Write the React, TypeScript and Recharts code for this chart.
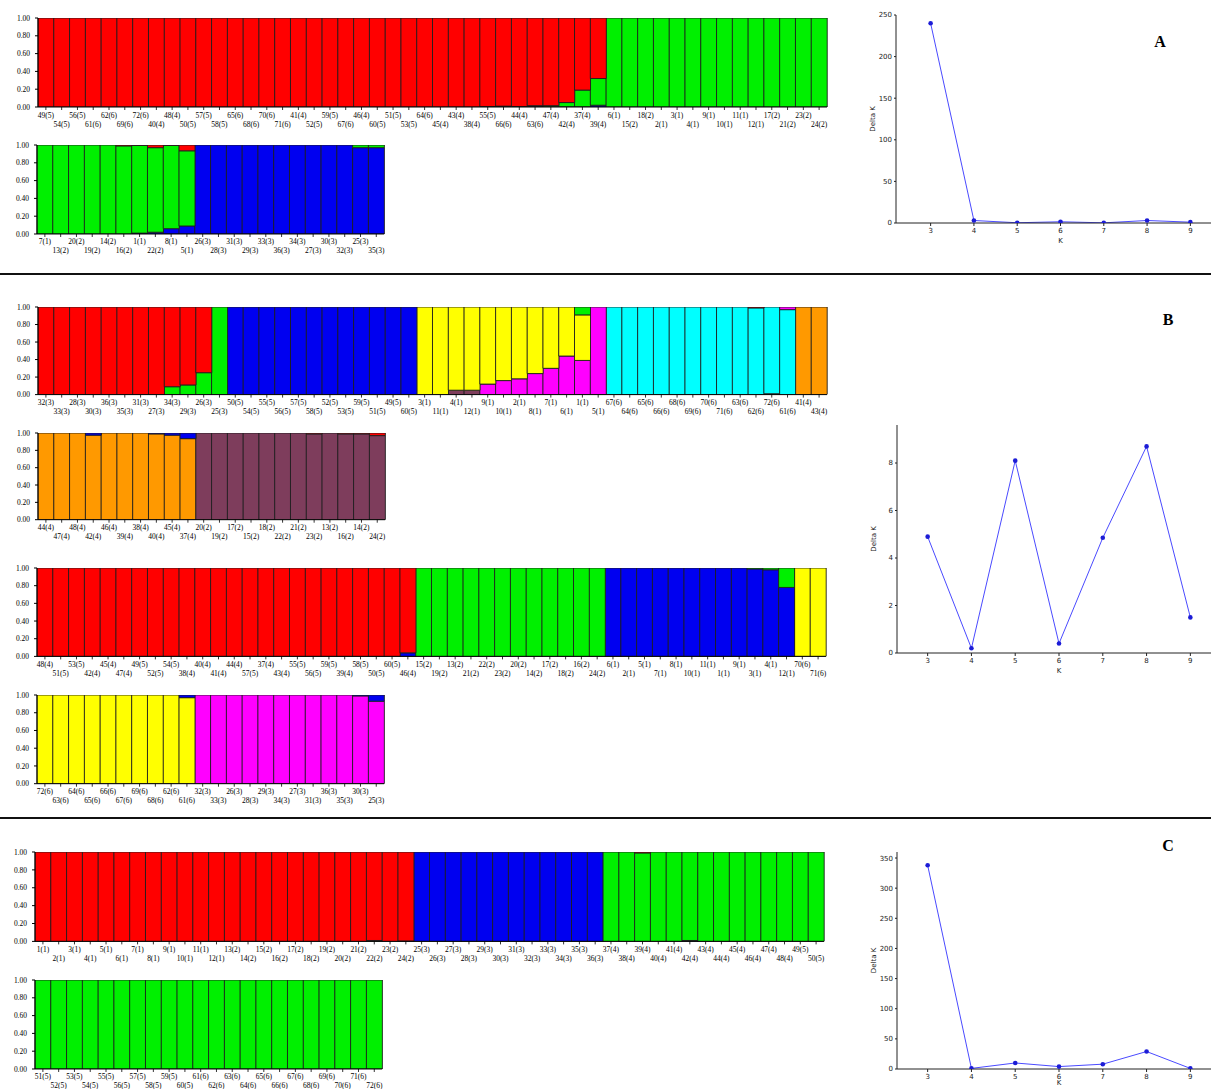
import { BarChart, Bar, XAxis, YAxis, LineChart, Line } from "recharts";

const SERIF = '"Liberation Serif", "Times New Roman", serif';
const SANS = '"DejaVu Sans", sans-serif';

// cluster colours (STRUCTURE palette)
const C = {
  red: "#ff0000",
  green: "#00f000",
  blue: "#0000f0",
  yellow: "#ffff00",
  magenta: "#ff00ff",
  cyan: "#00ffff",
  orange: "#ff9900",
  maroon: "#7e3d5c",
};

// ---------------- Panel A (K = 3) ----------------
const A1_LABELS = [
  "49(5)", "54(5)", "56(5)", "61(6)", "62(6)", "69(6)", "72(6)", "40(4)", "48(4)", "50(5)",
  "57(5)", "58(5)", "65(6)", "68(6)", "70(6)", "71(6)", "41(4)", "52(5)", "59(5)", "67(6)",
  "46(4)", "60(5)", "51(5)", "53(5)", "64(6)", "45(4)", "43(4)", "38(4)", "55(5)", "66(6)",
  "44(4)", "63(6)", "47(4)", "42(4)", "37(4)", "39(4)", "6(1)", "15(2)", "18(2)", "2(1)",
  "3(1)", "4(1)", "9(1)", "10(1)", "11(1)", "12(1)", "17(2)", "21(2)", "23(2)", "24(2)",
];
const A1_RED = [
  1, 1, 1, 1, 1, 1, 1, 1, 1, 1,
  1, 1, 1, 1, 1, 1, 1, 1, 1, 1,
  1, 1, 1, 1, 1, 1, 1, 1, 0.995, 0.99,
  0.995, 0.985, 0.985, 0.95, 0.81, 0.68, 0, 0, 0, 0,
  0, 0, 0, 0, 0, 0, 0, 0, 0, 0,
];
const A1_GREEN = [
  0, 0, 0, 0, 0, 0, 0, 0, 0, 0,
  0, 0, 0, 0, 0, 0, 0, 0, 0, 0,
  0, 0, 0, 0, 0, 0, 0, 0, 0.005, 0.003,
  0.003, 0.005, 0.012, 0.048, 0.188, 0.3, 1, 1, 1, 1,
  1, 1, 1, 1, 1, 1, 1, 1, 1, 1,
];
const A1_BLUE = [
  0, 0, 0, 0, 0, 0, 0, 0, 0, 0,
  0, 0, 0, 0, 0, 0, 0, 0, 0, 0,
  0, 0, 0, 0, 0, 0, 0, 0, 0, 0.007,
  0.002, 0.01, 0.003, 0.002, 0.002, 0.02, 0, 0, 0, 0,
  0, 0, 0, 0, 0, 0, 0, 0, 0, 0,
];

const A2_LABELS = [
  "7(1)", "13(2)", "20(2)", "19(2)", "14(2)", "16(2)", "1(1)", "22(2)", "8(1)", "5(1)",
  "26(3)", "28(3)", "31(3)", "29(3)", "33(3)", "36(3)", "34(3)", "27(3)", "30(3)", "32(3)",
  "25(3)", "35(3)",
];
const A2_RED = [0, 0, 0, 0, 0, 0.01, 0.005, 0.03, 0.005, 0.065, 0, 0, 0, 0, 0, 0, 0, 0, 0, 0, 0, 0];
const A2_GREEN = [1, 1, 1, 1, 1, 0.99, 0.985, 0.95, 0.935, 0.845, 0, 0, 0, 0, 0, 0, 0, 0, 0, 0, 0.03, 0.03];
const A2_BLUE = [0, 0, 0, 0, 0, 0, 0.01, 0.02, 0.06, 0.09, 1, 1, 1, 1, 1, 1, 1, 1, 1, 1, 0.97, 0.97];

// ---------------- Panel B (K = 8) ----------------
const B1_LABELS = [
  "32(3)", "33(3)", "28(3)", "30(3)", "36(3)", "35(3)", "31(3)", "27(3)", "34(3)", "29(3)",
  "26(3)", "25(3)", "50(5)", "54(5)", "55(5)", "56(5)", "57(5)", "58(5)", "52(5)", "53(5)",
  "59(5)", "51(5)", "49(5)", "60(5)", "3(1)", "11(1)", "4(1)", "12(1)", "9(1)", "10(1)",
  "2(1)", "8(1)", "7(1)", "6(1)", "1(1)", "5(1)", "67(6)", "64(6)", "65(6)", "66(6)",
  "68(6)", "69(6)", "70(6)", "71(6)", "63(6)", "62(6)", "72(6)", "61(6)", "41(4)", "43(4)",
];
const B1_RED = [
  1, 1, 1, 1, 1, 1, 1, 1, 0.91, 0.89,
  0.75, 0, 0, 0, 0, 0, 0, 0, 0, 0,
  0, 0, 0, 0, 0, 0, 0, 0, 0, 0,
  0, 0, 0, 0, 0, 0, 0, 0, 0, 0,
  0, 0, 0, 0, 0, 0.01, 0, 0, 0, 0,
];
const B1_GREEN = [
  0, 0, 0, 0, 0, 0, 0, 0, 0.09, 0.11,
  0.25, 1, 0, 0, 0, 0, 0, 0, 0, 0,
  0, 0, 0, 0, 0, 0, 0, 0, 0, 0,
  0, 0, 0, 0, 0.09, 0, 0, 0, 0, 0,
  0, 0, 0, 0, 0, 0, 0, 0, 0, 0,
];
const B1_BLUE = [
  0, 0, 0, 0, 0, 0, 0, 0, 0, 0,
  0, 0, 1, 1, 1, 1, 1, 1, 1, 1,
  1, 1, 1, 1, 0, 0, 0, 0, 0, 0,
  0, 0, 0, 0, 0, 0, 0, 0, 0, 0,
  0, 0, 0, 0, 0, 0, 0, 0, 0, 0,
];
const B1_YELLOW = [
  0, 0, 0, 0, 0, 0, 0, 0, 0, 0,
  0, 0, 0, 0, 0, 0, 0, 0, 0, 0,
  0, 0, 0, 0, 1, 1, 0.95, 0.95, 0.88, 0.84,
  0.82, 0.76, 0.7, 0.56, 0.52, 0, 0, 0, 0, 0,
  0, 0, 0, 0, 0, 0, 0, 0, 0, 0,
];
const B1_MAGENTA = [
  0, 0, 0, 0, 0, 0, 0, 0, 0, 0,
  0, 0, 0, 0, 0, 0, 0, 0, 0, 0,
  0, 0, 0, 0, 0, 0, 0, 0, 0.12, 0.16,
  0.18, 0.24, 0.3, 0.44, 0.39, 1, 0, 0, 0, 0,
  0, 0, 0, 0, 0, 0, 0, 0.03, 0, 0,
];
const B1_CYAN = [
  0, 0, 0, 0, 0, 0, 0, 0, 0, 0,
  0, 0, 0, 0, 0, 0, 0, 0, 0, 0,
  0, 0, 0, 0, 0, 0, 0, 0, 0, 0,
  0, 0, 0, 0, 0, 0, 1, 1, 1, 1,
  1, 1, 1, 1, 1, 0.99, 0.99, 0.97, 0, 0,
];
const B1_ORANGE = [
  0, 0, 0, 0, 0, 0, 0, 0, 0, 0,
  0, 0, 0, 0, 0, 0, 0, 0, 0, 0,
  0, 0, 0, 0, 0, 0, 0, 0, 0, 0,
  0, 0, 0, 0, 0, 0, 0, 0, 0, 0,
  0, 0, 0, 0, 0, 0, 0.01, 0, 1, 1,
];
const B1_MAROON = [
  0, 0, 0, 0, 0, 0, 0, 0, 0, 0,
  0, 0, 0, 0, 0, 0, 0, 0, 0, 0,
  0, 0, 0, 0, 0, 0, 0.05, 0.05, 0, 0,
  0, 0, 0, 0, 0, 0, 0, 0, 0, 0,
  0, 0, 0, 0, 0, 0, 0, 0, 0, 0,
];

const B2_LABELS = [
  "44(4)", "47(4)", "48(4)", "42(4)", "46(4)", "39(4)", "38(4)", "40(4)", "45(4)", "37(4)",
  "20(2)", "19(2)", "17(2)", "15(2)", "18(2)", "22(2)", "21(2)", "23(2)", "13(2)", "16(2)",
  "14(2)", "24(2)",
];
const B2_ORANGE = [1, 1, 1, 0.975, 1, 1, 1, 0.99, 0.975, 0.935, 0, 0, 0, 0, 0, 0, 0, 0, 0, 0, 0, 0];
const B2_BLUE = [0, 0, 0, 0.025, 0, 0, 0, 0.01, 0.025, 0.065, 0, 0, 0, 0, 0, 0, 0, 0, 0, 0, 0, 0];
const B2_MAROON = [0, 0, 0, 0, 0, 0, 0, 0, 0, 0, 1, 1, 1, 1, 1, 1, 1, 0.99, 1, 0.99, 0.99, 0.97];
const B2_RED = [0, 0, 0, 0, 0, 0, 0, 0, 0, 0, 0, 0, 0, 0, 0, 0, 0, 0.01, 0, 0.01, 0.01, 0.03];

const B3_LABELS = [
  "48(4)", "51(5)", "53(5)", "42(4)", "45(4)", "47(4)", "49(5)", "52(5)", "54(5)", "38(4)",
  "40(4)", "41(4)", "44(4)", "57(5)", "37(4)", "43(4)", "55(5)", "56(5)", "59(5)", "39(4)",
  "58(5)", "50(5)", "60(5)", "46(4)", "15(2)", "19(2)", "13(2)", "21(2)", "22(2)", "23(2)",
  "20(2)", "14(2)", "17(2)", "18(2)", "16(2)", "24(2)", "6(1)", "2(1)", "5(1)", "7(1)",
  "8(1)", "10(1)", "11(1)", "1(1)", "9(1)", "3(1)", "4(1)", "12(1)", "70(6)", "71(6)",
];
const B3_RED = [
  1, 1, 1, 1, 1, 1, 1, 1, 1, 1,
  1, 1, 1, 1, 1, 1, 1, 1, 1, 1,
  1, 1, 1, 0.96, 0, 0, 0, 0, 0, 0,
  0, 0, 0, 0, 0, 0, 0, 0, 0, 0,
  0, 0, 0, 0, 0, 0, 0, 0, 0, 0,
];
const B3_GREEN = [
  0, 0, 0, 0, 0, 0, 0, 0, 0, 0,
  0, 0, 0, 0, 0, 0, 0, 0, 0, 0,
  0, 0, 0, 0, 1, 1, 1, 1, 1, 1,
  1, 1, 1, 1, 1, 1, 0, 0, 0, 0,
  0, 0, 0, 0, 0, 0.01, 0.02, 0.22, 0, 0,
];
const B3_BLUE = [
  0, 0, 0, 0, 0, 0, 0, 0, 0, 0,
  0, 0, 0, 0, 0, 0, 0, 0, 0, 0,
  0, 0, 0, 0.04, 0, 0, 0, 0, 0, 0,
  0, 0, 0, 0, 0, 0, 1, 1, 1, 1,
  1, 1, 1, 1, 1, 0.99, 0.98, 0.78, 0, 0,
];
const B3_YELLOW = [
  0, 0, 0, 0, 0, 0, 0, 0, 0, 0,
  0, 0, 0, 0, 0, 0, 0, 0, 0, 0,
  0, 0, 0, 0, 0, 0, 0, 0, 0, 0,
  0, 0, 0, 0, 0, 0, 0, 0, 0, 0,
  0, 0, 0, 0, 0, 0, 0, 0, 1, 1,
];

const B4_LABELS = [
  "72(6)", "63(6)", "64(6)", "65(6)", "66(6)", "67(6)", "69(6)", "68(6)", "62(6)", "61(6)",
  "32(3)", "33(3)", "26(3)", "28(3)", "29(3)", "34(3)", "27(3)", "31(3)", "36(3)", "35(3)",
  "30(3)", "25(3)",
];
const B4_YELLOW = [1, 1, 1, 1, 1, 1, 1, 1, 1, 0.97, 0, 0, 0, 0, 0, 0, 0, 0, 0, 0, 0, 0];
const B4_MAGENTA = [0, 0, 0, 0, 0, 0, 0, 0, 0, 0, 1, 1, 1, 1, 1, 1, 1, 1, 1, 1, 0.99, 0.93];
const B4_BLUE = [0, 0, 0, 0, 0, 0, 0, 0, 0, 0.03, 0, 0, 0, 0, 0, 0, 0, 0, 0, 0, 0.01, 0.07];

// ---------------- Panel C (K = 3) ----------------
const C1_LABELS = [
  "1(1)", "2(1)", "3(1)", "4(1)", "5(1)", "6(1)", "7(1)", "8(1)", "9(1)", "10(1)",
  "11(1)", "12(1)", "13(2)", "14(2)", "15(2)", "16(2)", "17(2)", "18(2)", "19(2)", "20(2)",
  "21(2)", "22(2)", "23(2)", "24(2)", "25(3)", "26(3)", "27(3)", "28(3)", "29(3)", "30(3)",
  "31(3)", "32(3)", "33(3)", "34(3)", "35(3)", "36(3)", "37(4)", "38(4)", "39(4)", "40(4)",
  "41(4)", "42(4)", "43(4)", "44(4)", "45(4)", "46(4)", "47(4)", "48(4)", "49(5)", "50(5)",
];
const C1_RED = [
  1, 1, 1, 1, 1, 1, 1, 1, 1, 1,
  1, 1, 1, 1, 1, 1, 1, 1, 1, 1,
  1, 0.99, 1, 0.995, 0, 0, 0, 0, 0, 0,
  0, 0, 0, 0, 0, 0, 0, 0, 0.01, 0,
  0, 0, 0, 0, 0, 0, 0, 0, 0, 0,
];
const C1_GREEN = [
  0, 0, 0, 0, 0, 0, 0, 0, 0, 0,
  0, 0, 0, 0, 0, 0, 0, 0, 0, 0,
  0, 0.01, 0, 0, 0, 0, 0, 0, 0, 0,
  0, 0, 0, 0, 0, 0, 1, 1, 0.99, 1,
  1, 0.99, 1, 1, 1, 1, 1, 1, 1, 1,
];
const C1_BLUE = [
  0, 0, 0, 0, 0, 0, 0, 0, 0, 0,
  0, 0, 0, 0, 0, 0, 0, 0, 0, 0,
  0, 0, 0, 0.005, 1, 1, 1, 1, 1, 1,
  1, 1, 1, 1, 1, 1, 0, 0, 0, 0,
  0, 0.01, 0, 0, 0, 0, 0, 0, 0, 0,
];

const C2_LABELS = [
  "51(5)", "52(5)", "53(5)", "54(5)", "55(5)", "56(5)", "57(5)", "58(5)", "59(5)", "60(5)",
  "61(6)", "62(6)", "63(6)", "64(6)", "65(6)", "66(6)", "67(6)", "68(6)", "69(6)", "70(6)",
  "71(6)", "72(6)",
];
const C2_GREEN = [1, 1, 1, 1, 1, 1, 1, 1, 1, 1, 1, 1, 1, 1, 1, 1, 1, 1, 1, 1, 1, 1];

// ---------------- Delta K (Evanno) ----------------
const K_VALUES = [3, 4, 5, 6, 7, 8, 9];
const A_DELTA_K = [240, 3, 0.3, 1.5, 0.2, 3, 1];
const B_DELTA_K = [4.9, 0.2, 8.1, 0.4, 4.85, 8.7, 1.5];
const C_DELTA_K = [338, 1, 10, 4, 8, 29, 1];

const PROP_TICKS = [0, 0.2, 0.4, 0.6, 0.8, 1];
const BAR_W = 15.78;
const Y_AXIS_W = 38;

type Series = { key: string; color: string; values: number[] };

function StructTick(props: any) {
  const { x, y, payload, index } = props;
  const low = index % 2 === 1;
  return (
    <g>
      <line x1={x} x2={x} y1={y} y2={y + 3} stroke="#000" strokeWidth={0.8} />
      <text
        x={x}
        y={y + (low ? 17 : 8)}
        textAnchor="middle"
        dominantBaseline="central"
        fontSize={7.5}
        fontFamily={SERIF}
        fill="#000"
      >
        {payload.value}
      </text>
    </g>
  );
}

function StructurePlot({
  left, top, bottom, labels, series,
}: { left: number; top: number; bottom: number; labels: string[]; series: Series[] }) {
  const data = labels.map((label, i) => {
    const row: any = { label };
    series.forEach((s) => { row[s.key] = s.values[i]; });
    return row;
  });
  const plotW = labels.length * BAR_W;
  const plotH = bottom - top;
  const mt = 4;
  return (
    <div style={{ position: "absolute", left: left - Y_AXIS_W, top: top - mt }}>
      <BarChart
        width={Y_AXIS_W + plotW + 8}
        height={mt + plotH + 30}
        data={data}
        margin={{ top: mt, right: 8, left: 0, bottom: 0 }}
        barCategoryGap={0}
        barGap={0}
      >
        <XAxis
          dataKey="label"
          interval={0}
          height={30}
          tickSize={0}
          tickMargin={0}
          tickLine={false}
          axisLine={{ stroke: "#000" }}
          tick={(p: any) => <StructTick {...p} />}
        />
        <YAxis
          type="number"
          domain={[0, 1]}
          allowDataOverflow
          ticks={PROP_TICKS}
          interval={0}
          tickFormatter={(v: number) => v.toFixed(2)}
          width={Y_AXIS_W}
          tickSize={3}
          tickMargin={5}
          axisLine={{ stroke: "#000" }}
          tickLine={{ stroke: "#000" }}
          tick={{ fontSize: 7.5, fontFamily: SERIF, fill: "#000" }}
        />
        {series.map((s) => (
          <Bar
            key={s.key}
            dataKey={s.key}
            stackId="q"
            fill={s.color}
            stroke="#1e1e1e"
            strokeWidth={0.9}
            isAnimationActive={false}
          />
        ))}
      </BarChart>
    </div>
  );
}

function DeltaKPlot({
  left, top, bottom, right, values, yDomain, yTicks, xDomain, kOffset = 6,
}: {
  left: number; top: number; bottom: number; right: number; values: number[];
  yDomain: [number, number]; yTicks: number[]; xDomain: [number, number]; kOffset?: number;
}) {
  const data = K_VALUES.map((k, i) => ({ k, dk: values[i] }));
  const YW = 46;
  const XH = 26;
  const mt = 5;
  return (
    <div style={{ position: "absolute", left: left - YW, top: top - mt }}>
      <LineChart
        width={YW + right - left}
        height={mt + bottom - top + XH}
        data={data}
        margin={{ top: mt, right: 0, left: 0, bottom: 0 }}
      >
        <XAxis
          type="number"
          dataKey="k"
          domain={xDomain}
          allowDataOverflow
          ticks={K_VALUES}
          interval={0}
          height={XH}
          tickSize={3}
          tickMargin={2}
          axisLine={{ stroke: "#222" }}
          tickLine={{ stroke: "#222" }}
          tick={{ fontSize: 7, fontFamily: SANS, fill: "#222" }}
          label={{ value: "K", position: "insideBottom", offset: kOffset, fontSize: 7, fontFamily: SANS, fill: "#222" }}
        />
        <YAxis
          type="number"
          domain={yDomain}
          allowDataOverflow
          ticks={yTicks}
          interval={0}
          width={YW}
          tickSize={2}
          tickMargin={2}
          axisLine={{ stroke: "#222" }}
          tickLine={{ stroke: "#222" }}
          tick={{ fontSize: 7, fontFamily: SANS, fill: "#222" }}
          label={{
            value: "Delta K", angle: -90, position: "insideLeft", offset: 23,
            fontSize: 7, fontFamily: SANS, fill: "#222", style: { textAnchor: "middle" },
          }}
        />
        <Line
          dataKey="dk"
          stroke="#4a4aff"
          strokeWidth={1}
          dot={{ r: 2.3, fill: "#1c1cd6", stroke: "#1c1cd6", strokeWidth: 0 }}
          isAnimationActive={false}
        />
      </LineChart>
    </div>
  );
}

function PanelLetter({ x, y, text }: { x: number; y: number; text: string }) {
  return (
    <div
      style={{
        position: "absolute", left: x - 12, top: y - 10, width: 24, height: 20,
        textAlign: "center", lineHeight: "20px", fontFamily: SERIF, fontWeight: "bold", fontSize: 16,
      }}
    >
      {text}
    </div>
  );
}

export default function App() {
  return (
    <div style={{ position: "absolute", left: 0, top: 0, width: 1211, height: 1089, overflow: "hidden", background: "#fff" }}>
      {/* A */}
      <StructurePlot left={37.5} top={17.5} bottom={106.5} labels={A1_LABELS}
        series={[{ key: "blue", color: C.blue, values: A1_BLUE }, { key: "green", color: C.green, values: A1_GREEN }, { key: "red", color: C.red, values: A1_RED }]} />
      <StructurePlot left={37} top={144.7} bottom={233.7} labels={A2_LABELS}
        series={[{ key: "blue", color: C.blue, values: A2_BLUE }, { key: "green", color: C.green, values: A2_GREEN }, { key: "red", color: C.red, values: A2_RED }]} />
      <DeltaKPlot left={896} top={15} bottom={223} right={1225} values={A_DELTA_K}
        yDomain={[0, 250]} yTicks={[0, 50, 100, 150, 200, 250]} xDomain={[2.2, 9.8]} />
      <PanelLetter x={1160} y={42} text="A" />
      <div style={{ position: "absolute", left: 0, top: 273, width: 1211, height: 2, background: "#111" }} />

      {/* B */}
      <StructurePlot left={37.5} top={306.7} bottom={394.3} labels={B1_LABELS}
        series={[
          { key: "orange", color: C.orange, values: B1_ORANGE },
          { key: "cyan", color: C.cyan, values: B1_CYAN },
          { key: "maroon", color: C.maroon, values: B1_MAROON },
          { key: "magenta", color: C.magenta, values: B1_MAGENTA },
          { key: "yellow", color: C.yellow, values: B1_YELLOW },
          { key: "blue", color: C.blue, values: B1_BLUE },
          { key: "green", color: C.green, values: B1_GREEN },
          { key: "red", color: C.red, values: B1_RED },
        ]} />
      <StructurePlot left={37.5} top={433.3} bottom={520} labels={B2_LABELS}
        series={[
          { key: "orange", color: C.orange, values: B2_ORANGE },
          { key: "maroon", color: C.maroon, values: B2_MAROON },
          { key: "blue", color: C.blue, values: B2_BLUE },
          { key: "red", color: C.red, values: B2_RED },
        ]} />
      <StructurePlot left={36.5} top={568.3} bottom={656.7} labels={B3_LABELS}
        series={[
          { key: "yellow", color: C.yellow, values: B3_YELLOW },
          { key: "blue", color: C.blue, values: B3_BLUE },
          { key: "green", color: C.green, values: B3_GREEN },
          { key: "red", color: C.red, values: B3_RED },
        ]} />
      <StructurePlot left={36.5} top={695} bottom={783.7} labels={B4_LABELS}
        series={[
          { key: "magenta", color: C.magenta, values: B4_MAGENTA },
          { key: "yellow", color: C.yellow, values: B4_YELLOW },
          { key: "blue", color: C.blue, values: B4_BLUE },
        ]} />
      <DeltaKPlot left={897} top={425} bottom={653} right={1221} values={B_DELTA_K}
        yDomain={[0, 9.6]} yTicks={[0, 2, 4, 6, 8]} xDomain={[2.3, 9.7]} />
      <PanelLetter x={1168} y={320} text="B" />
      <div style={{ position: "absolute", left: 0, top: 817, width: 1211, height: 2, background: "#111" }} />

      {/* C */}
      <StructurePlot left={34.5} top={852.3} bottom={941.7} labels={C1_LABELS}
        series={[{ key: "blue", color: C.blue, values: C1_BLUE }, { key: "green", color: C.green, values: C1_GREEN }, { key: "red", color: C.red, values: C1_RED }]} />
      <StructurePlot left={34.5} top={980} bottom={1069} labels={C2_LABELS}
        series={[{ key: "green", color: C.green, values: C2_GREEN }]} />
      <DeltaKPlot left={897} top={852} bottom={1069} right={1221} values={C_DELTA_K}
        yDomain={[0, 360]} yTicks={[0, 50, 100, 150, 200, 250, 300, 350]} xDomain={[2.3, 9.7]} kOffset={10} />
      <PanelLetter x={1168} y={846} text="C" />
    </div>
  );
}
